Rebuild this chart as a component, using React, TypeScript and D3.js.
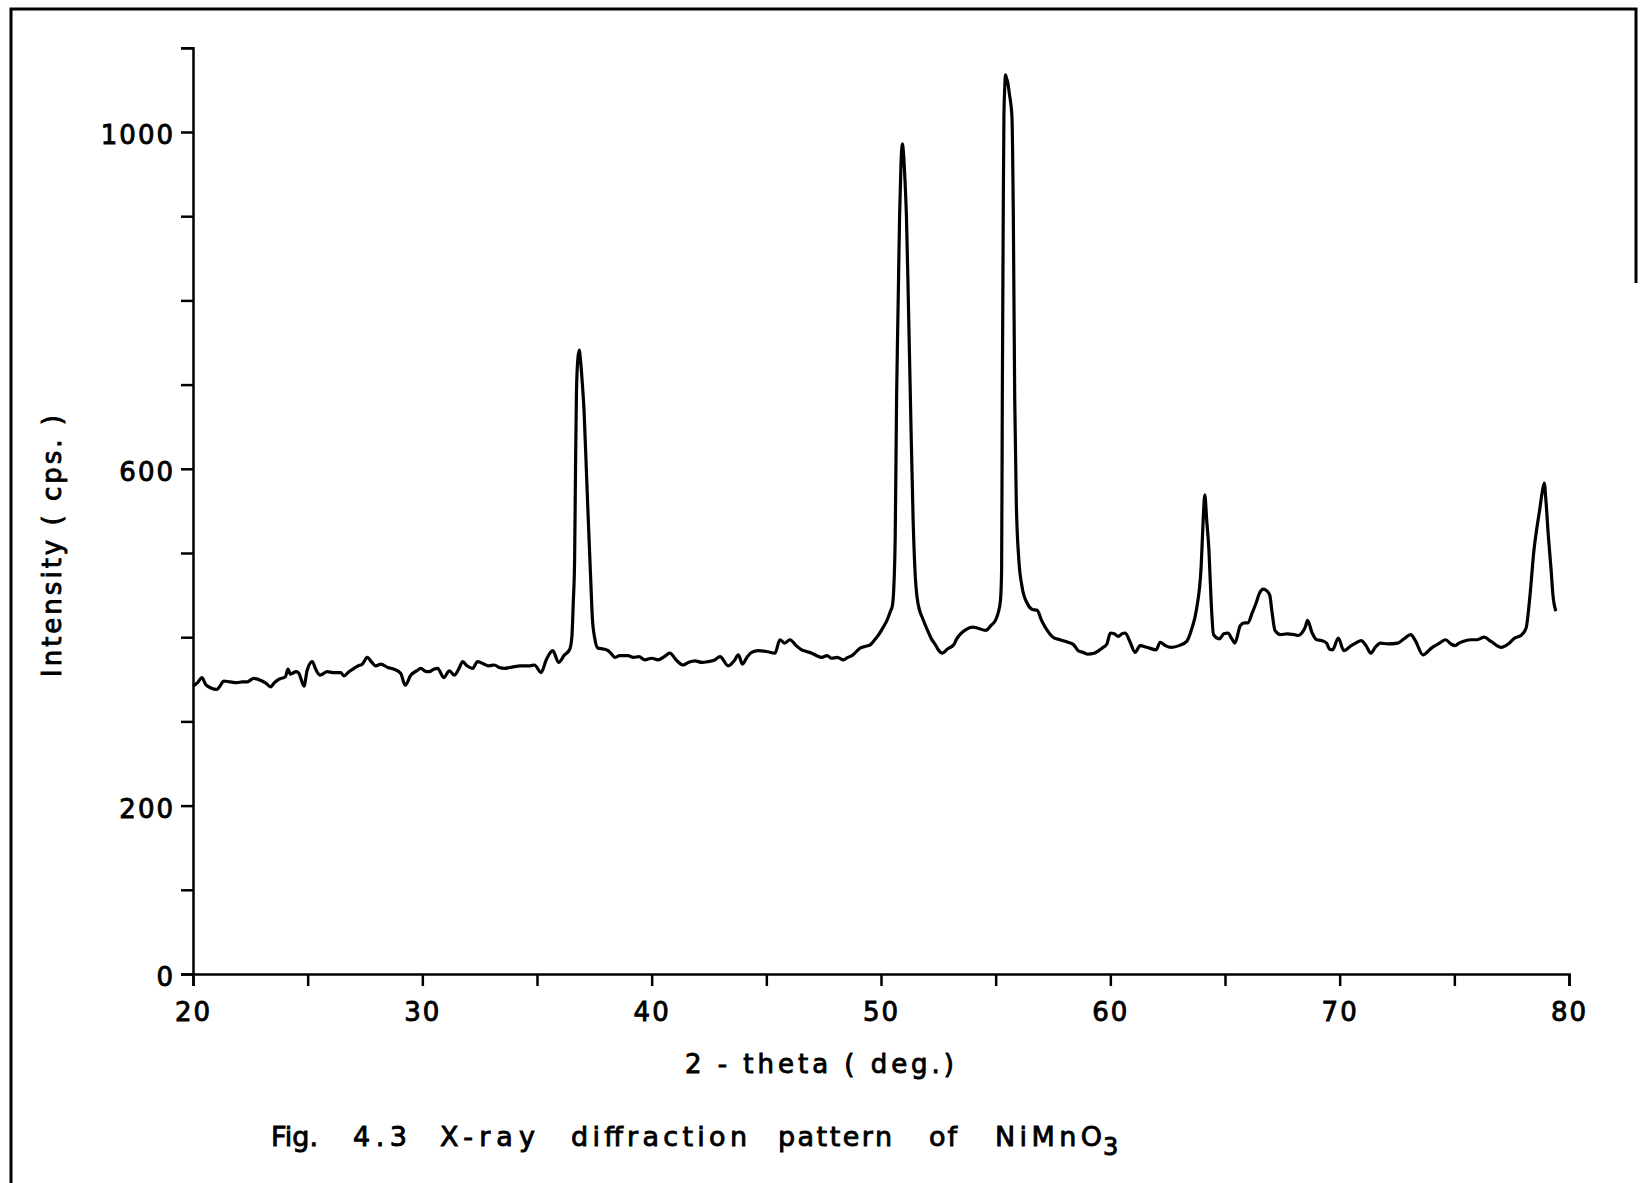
import React, { useRef, useEffect } from "react";
import * as d3 from "d3";

// 2-theta (deg) and intensity (cps)
const twoTheta = [
  20.0, 20.2, 20.39, 20.55, 20.76, 21.05, 21.2, 21.34, 21.6, 21.92, 22.15, 22.36, 22.65, 23.01, 23.2, 23.38, 23.55, 23.74,
  24.03, 24.14, 24.25, 24.33, 24.5, 24.62, 24.84, 24.98, 25.2, 25.35, 25.54, 25.86, 26.1, 26.44, 26.58, 26.8, 27.02, 27.2,
  27.38, 27.6, 27.8, 27.97, 28.19, 28.5, 28.77, 29.06, 29.25, 29.5, 29.75, 29.94, 30.1, 30.3, 30.5, 30.67, 30.93, 31.18,
  31.39, 31.6, 31.76, 31.95, 32.19, 32.41, 32.7, 32.9, 33.14, 33.35, 33.58, 33.8, 34.02, 34.25, 34.45, 34.7, 34.89, 35.18,
  35.4, 35.69, 35.94, 36.2, 36.42, 36.52, 36.58, 36.64, 36.68, 36.72, 36.78, 36.84, 36.9, 36.98, 37.05, 37.15, 37.25, 37.34,
  37.42, 37.51, 37.66, 37.9, 38.1, 38.25, 38.39, 38.6, 38.97, 39.2, 39.45, 39.7, 40.0, 40.28, 40.55, 40.79, 41.1, 41.37,
  41.6, 41.88, 42.2, 42.46, 42.75, 42.98, 43.34, 43.6, 43.78, 43.96, 44.15, 44.36, 44.65, 45.0, 45.38, 45.59, 45.8, 46.03,
  46.3, 46.54, 46.75, 46.98, 47.2, 47.41, 47.65, 47.85, 48.1, 48.36, 48.55, 48.73, 49.09, 49.3, 49.53, 49.7, 49.9, 50.1,
  50.26, 50.4, 50.5, 50.56, 50.62, 50.68, 50.75, 50.81, 50.87, 50.93, 50.98, 51.05, 51.11, 51.2, 51.3, 51.4, 51.5,
  51.57, 51.68, 51.79, 52.0, 52.2, 52.37, 52.5, 52.66, 52.9, 53.17, 53.3, 53.47, 53.7, 53.98, 54.2, 54.56, 54.8, 54.99,
  55.1, 55.21, 55.26, 55.29, 55.33, 55.36, 55.4, 55.43, 55.47, 55.52, 55.6, 55.71, 55.77, 55.83, 55.9, 56.01, 56.15, 56.38,
  56.6, 56.81, 57.0, 57.25, 57.5, 57.8, 58.15, 58.4, 58.6, 58.8, 59.0, 59.3, 59.64, 59.85, 60.0, 60.17, 60.35, 60.5,
  60.65, 60.85, 61.08, 61.3, 61.6, 62.0, 62.17, 62.4, 62.66, 63.0, 63.33, 63.55, 63.75, 63.96, 64.05, 64.12, 64.2, 64.3,
  64.4, 64.5, 64.75, 64.95, 65.13, 65.3, 65.43, 65.67, 65.85, 66.0, 66.2, 66.35, 66.5, 66.68, 66.82, 66.95, 67.05, 67.18,
  67.42, 67.7, 68.02, 68.2, 68.35, 68.5, 68.6, 68.8, 69.0, 69.2, 69.43, 69.55, 69.69, 69.94, 70.18, 70.5, 70.7, 70.94,
  71.15, 71.36, 71.55, 71.78, 72.1, 72.53, 72.8, 73.1, 73.3, 73.63, 74.04, 74.3, 74.62, 74.85, 75.04, 75.2, 75.37, 75.7,
  76.0, 76.3, 76.6, 77.05, 77.35, 77.63, 77.9, 78.13, 78.3, 78.47, 78.6, 78.72, 78.82, 78.92, 79.0, 79.1, 79.22, 79.3, 79.43,
];
const intensity = [
  342, 346, 352, 344, 340, 338, 343, 348, 347, 346, 347, 347, 351, 348, 345, 341, 346, 350,
  353, 362, 356, 357, 359, 357, 342, 361, 371, 362, 355, 359, 358, 358, 354, 359, 363, 366,
  368, 376, 370, 366, 368, 364, 362, 357, 343, 355, 360, 363, 360, 359, 362, 363, 352, 360,
  355, 363, 371, 366, 363, 371, 368, 366, 367, 364, 363, 364, 365, 366, 366, 366, 367, 358,
  373, 384, 370, 379, 385, 400, 440, 492, 600, 690, 730, 741, 728, 700, 670, 600, 530, 470,
  420, 400, 387, 386, 384, 380, 376, 378, 378, 376, 377, 373, 375, 373, 377, 381, 372, 367,
  370, 372, 370, 371, 373, 377, 366, 372, 379, 368, 376, 382, 384, 383, 381, 397, 393, 397,
  390, 385, 383, 381, 378, 376, 378, 375, 376, 373, 376, 378, 387, 389, 391, 396, 403, 412,
  420, 430, 438, 460, 520, 685, 800, 899, 960, 986, 975, 940, 899, 790, 660, 540, 470,
  448, 432, 424, 410, 398, 391, 385, 381, 386, 391, 398, 404, 409, 412, 411, 408, 414, 420,
  428, 444, 480, 685, 900, 1018, 1055, 1068, 1064, 1060, 1045, 1018, 900, 685, 560, 492, 460, 440,
  433, 432, 420, 408, 400, 397, 394, 391, 384, 382, 380, 381, 387, 392, 405, 404, 401, 404,
  405, 395, 382, 390, 388, 385, 394, 390, 388, 390, 395, 410, 432, 484, 540, 569, 540, 503,
  440, 403, 398, 404, 405, 398, 393, 414, 417, 417, 430, 440, 452, 457, 455, 450, 430, 408,
  403, 404, 403, 402, 405, 412, 420, 405, 397, 396, 393, 386, 385, 399, 384, 390, 393, 396,
  390, 381, 388, 393, 392, 393, 398, 403, 396, 379, 388, 392, 397, 392, 390, 393, 395, 397,
  397, 400, 395, 388, 392, 399, 402, 411, 450, 503, 530, 551, 570, 583, 560, 520, 480, 450, 431,
];

const xTickValues = [20, 25, 30, 35, 40, 45, 50, 55, 60, 65, 70, 75, 80];
const xTickLabels = [20, 30, 40, 50, 60, 70, 80];
const yTickValues = [0, 100, 200, 300, 400, 500, 600, 700, 800, 900, 1000, 1100];
const yTickLabels = [0, 200, 600, 1000];

const xTitle = "2 - theta ( deg.)";
const yTitle = "Intensity ( cps. )";
const captionWords = ["Fig.", "4.3", "X-ray", "diffraction", "pattern", "of", "NiMnO"];
const captionSub = "3";

const FONT = "'DejaVu Sans', sans-serif";

export default function App() {
  const ref = useRef<SVGSVGElement>(null);

  useEffect(() => {
    const svg = d3.select(ref.current);
    svg.selectAll("*").remove();

    const x = d3.scaleLinear().domain([20, 80]).range([193, 1569]);
    const y = d3.scaleLinear().domain([0, 1100]).range([974, 47.8]);

    const styleText = (sel: any, size: number) =>
      sel
        .attr("font-family", FONT)
        .attr("font-size", size)
        .attr("font-weight", "normal")
        .attr("fill", "#000")
        .attr("stroke", "#000")
        .attr("stroke-width", 0.9);

    // page frame (scanned sheet border)
    svg.append("path")
      .attr("d", "M11,1183 V9 H1636 V283")
      .attr("fill", "none")
      .attr("stroke", "#000")
      .attr("stroke-width", 3);

    // x axis
    const gx = svg.append("g").attr("transform", `translate(0,${y(0)})`);
    gx.call(
      d3.axisBottom(x)
        .tickValues(xTickValues)
        .tickSize(12)
        .tickSizeOuter(12)
        .tickPadding(17)
        .tickFormat((d: any) => (xTickLabels.includes(d) ? String(d) : ""))
    );
    gx.select(".domain").attr("stroke", "#000").attr("stroke-width", 2.5);
    gx.selectAll(".tick line").attr("stroke", "#000").attr("stroke-width", 2.5);
    styleText(gx.selectAll(".tick text"), 26).attr("letter-spacing", 2);

    // y axis
    const gy = svg.append("g").attr("transform", `translate(${x(20)},0)`);
    gy.call(
      d3.axisLeft(y)
        .tickValues(yTickValues)
        .tickSize(12)
        .tickSizeOuter(12)
        .tickPadding(6)
        .tickFormat((d: any) => (yTickLabels.includes(d) ? String(d) : ""))
    );
    gy.select(".domain").attr("stroke", "#000").attr("stroke-width", 2.5);
    gy.selectAll(".tick line").attr("stroke", "#000").attr("stroke-width", 2.5);
    styleText(gy.selectAll(".tick text"), 26)
      .attr("letter-spacing", 2)
      .attr("dy", "0.45em");

    // trace
    const pts = twoTheta.map((t, i) => [t, intensity[i]] as [number, number]);
    const line = d3.line<[number, number]>()
      .x((d) => x(d[0]))
      .y((d) => y(d[1]))
      .curve(d3.curveMonotoneX);
    svg.append("path")
      .datum(pts)
      .attr("d", line)
      .attr("fill", "none")
      .attr("stroke", "#000")
      .attr("stroke-width", 3.2)
      .attr("stroke-linejoin", "round");

    // axis titles
    styleText(
      svg.append("text")
        .attr("x", 685)
        .attr("y", 1073)
        .attr("textLength", 269)
        .attr("lengthAdjust", "spacing"),
      26
    ).text(xTitle);

    styleText(
      svg.append("text")
        .attr("transform", "translate(61,677) rotate(-90)")
        .attr("textLength", 262)
        .attr("lengthAdjust", "spacing"),
      26
    ).text(yTitle);

    // caption
    const starts = [271, 353, 440, 571, 778, 929, 995];
    const widths = [47, 54, 95, 176, 114, 28, 107];
    const cap = styleText(svg.append("text").attr("y", 1146), 27);
    captionWords.forEach((w, i) => {
      cap.append("tspan")
        .attr("x", starts[i])
        .attr("textLength", widths[i])
        .attr("lengthAdjust", "spacing")
        .text(w);
    });
    cap.append("tspan")
      .attr("x", 1103)
      .attr("dy", 9)
      .attr("font-size", 24)
      .text(captionSub);
  }, []);

  return (
    <svg
      ref={ref}
      width={1640}
      height={1183}
      style={{ position: "absolute", left: 0, top: 0, background: "#fff" }}
    />
  );
}
